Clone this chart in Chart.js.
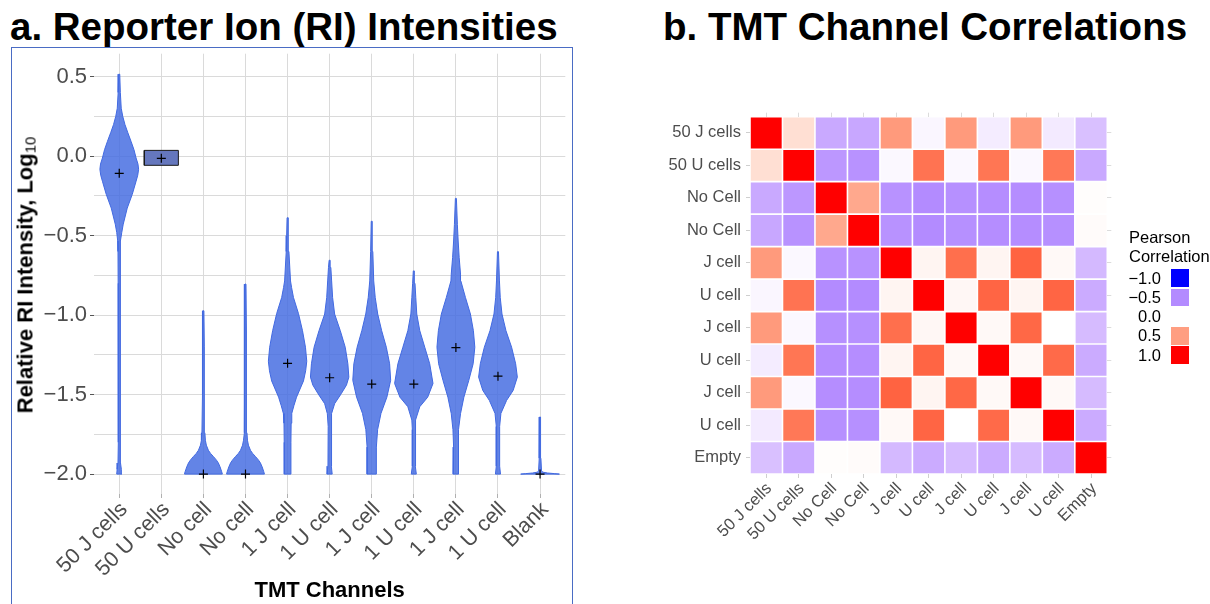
<!DOCTYPE html>
<html><head><meta charset="utf-8">
<script src="https://cdn.jsdelivr.net/npm/chart.js@4.4.1/dist/chart.umd.min.js"></script>
<style>
html,body{margin:0;padding:0;background:#fff;width:1210px;height:604px;overflow:hidden;font-family:"Liberation Sans",Arial,sans-serif;}
.title{position:absolute;font-weight:bold;font-size:38.5px;line-height:38.5px;color:#000;white-space:nowrap;top:8px;}
#panelA{position:absolute;left:11px;top:47px;width:560px;height:600px;border:1px solid #4a6cc4;}
#cA{position:absolute;left:12px;top:48px;}
#cB{position:absolute;left:620px;top:60px;}
#ytitle{position:absolute;left:26px;top:275px;transform:translate(-50%,-50%) rotate(-90deg);font-weight:bold;font-size:22px;line-height:1;white-space:nowrap;color:#000;}
#ytitle sub{font-size:15px;font-weight:normal;vertical-align:-3px;}
.lt{position:absolute;left:1129px;font-size:16.5px;line-height:18.6px;color:#000;white-space:nowrap;}
.ll{position:absolute;left:1100px;width:61px;text-align:right;font-size:16.5px;line-height:19px;color:#000;}
.ls{position:absolute;left:1171px;width:18px;height:17.5px;}
</style></head>
<body>
<div class="title" style="left:10px;">a. Reporter Ion (RI) Intensities</div>
<div class="title" style="left:663px;">b. TMT Channel Correlations</div>
<div id="panelA"></div>
<canvas id="cA" width="559" height="556"></canvas>
<div id="ytitle">Relative RI Intensity, Log<sub>10</sub></div>
<canvas id="cB" width="590" height="544"></canvas>
<div id="legend"></div>
<script>
// ---------------- Panel a data ----------------
const categories = ["50 J cells","50 U cells","No cell","No cell","1 J cell","1 U cell","1 J cell","1 U cell","1 J cell","1 U cell","Blank"];
const meanValues = [-0.108, -0.014, -2.0, -2.0, -1.303, -1.394, -1.434, -1.434, -1.204, -1.384, -2.0];
const yMajorTicks = [-2.0, -1.5, -1.0, -0.5, 0.0, 0.5];
const yMinorTicks = [-1.75, -1.25, -0.75, -0.25, 0.25];
const yLimits = [-2.125, 0.644];
// violin profiles: [value (log10), relative half-width of density]
const violin50J = [[-2.0,0.06],[-1.97,0.05],[-1.93,0.03],[-1.8,0.022],[-1.2,0.022],[-0.8,0.026],[-0.6,0.03],[-0.534,0.036],[-0.48,0.06],[-0.428,0.095],[-0.327,0.19],[-0.24,0.31],[-0.158,0.40],[-0.12,0.44],[-0.083,0.46],[-0.05,0.445],[-0.012,0.40],[0.04,0.35],[0.093,0.28],[0.15,0.2],[0.199,0.135],[0.25,0.083],[0.301,0.047],[0.4,0.026],[0.515,0.012]];
const violin50U = [[-0.058,0.405],[0.036,0.405]];
const violinNoCellA = [[-2.0,0.45],[-1.985,0.435],[-1.954,0.395],[-1.93,0.355],[-1.912,0.31],[-1.89,0.24],[-1.87,0.17],[-1.85,0.118],[-1.818,0.07],[-1.787,0.047],[-1.74,0.035],[-1.5,0.024],[-1.2,0.02],[-0.973,0.012]];
const violinNoCellB = [[-2.0,0.45],[-1.985,0.435],[-1.954,0.395],[-1.93,0.355],[-1.912,0.31],[-1.89,0.24],[-1.87,0.17],[-1.85,0.118],[-1.818,0.07],[-1.787,0.047],[-1.74,0.035],[-1.5,0.024],[-1.1,0.02],[-0.805,0.012]];
const violin1JA = [[-2.0,0.078],[-1.8,0.08],[-1.68,0.085],[-1.618,0.10],[-1.57,0.15],[-1.516,0.213],[-1.414,0.378],[-1.35,0.43],[-1.29,0.456],[-1.202,0.425],[-1.098,0.355],[-0.991,0.26],[-0.889,0.14],[-0.826,0.095],[-0.785,0.07],[-0.6,0.032],[-0.5,0.022],[-0.388,0.012]];
const violin1UA = [[-2.0,0.06],[-1.95,0.04],[-1.7,0.035],[-1.62,0.055],[-1.557,0.118],[-1.494,0.276],[-1.44,0.40],[-1.39,0.456],[-1.306,0.433],[-1.202,0.37],[-1.098,0.253],[-0.993,0.118],[-0.889,0.07],[-0.785,0.047],[-0.7,0.028],[-0.655,0.012]];
const violin1JB = [[-2.0,0.11],[-1.83,0.11],[-1.72,0.14],[-1.618,0.22],[-1.516,0.36],[-1.41,0.45],[-1.306,0.425],[-1.202,0.347],[-1.098,0.236],[-0.993,0.142],[-0.889,0.083],[-0.785,0.047],[-0.6,0.026],[-0.41,0.012]];
const violin1UB = [[-2.0,0.06],[-1.95,0.035],[-1.72,0.035],[-1.66,0.047],[-1.576,0.142],[-1.516,0.33],[-1.43,0.456],[-1.306,0.378],[-1.202,0.26],[-1.098,0.142],[-0.993,0.07],[-0.889,0.047],[-0.8,0.028],[-0.722,0.012]];
const violin1JC = [[-2.0,0.064],[-1.83,0.054],[-1.72,0.07],[-1.62,0.11],[-1.516,0.19],[-1.41,0.307],[-1.306,0.41],[-1.202,0.45],[-1.098,0.416],[-0.993,0.345],[-0.889,0.227],[-0.785,0.118],[-0.742,0.11],[-0.638,0.078],[-0.534,0.054],[-0.43,0.035],[-0.266,0.012]];
const violin1UC = [[-2.0,0.06],[-1.95,0.04],[-1.7,0.04],[-1.618,0.07],[-1.536,0.206],[-1.474,0.36],[-1.39,0.46],[-1.306,0.42],[-1.202,0.324],[-1.098,0.19],[-0.993,0.095],[-0.889,0.054],[-0.785,0.035],[-0.601,0.012]];
const violinBlank = [[-2.0,0.46],[-1.997,0.35],[-1.993,0.18],[-1.988,0.07],[-1.98,0.035],[-1.9,0.02],[-1.641,0.012]];
const violins = [violin50J, violin50U, violinNoCellA, violinNoCellB, violin1JA, violin1UA, violin1JB, violin1UB, violin1JC, violin1UC, violinBlank];

// ---------------- Panel b data ----------------
const rowLabels = ["50 J cells","50 U cells","No Cell","No Cell","J cell","U cell","J cell","U cell","J cell","U cell","Empty"];
const colLabels = ["50 J cells","50 U cells","No Cell","No Cell","J cell","U cell","J cell","U cell","J cell","U cell","Empty"];
const corr50J   = [1.00, 0.17,-0.37,-0.38, 0.52,-0.04, 0.52,-0.08, 0.52,-0.09,-0.27];
const corr50U   = [0.17, 1.00,-0.45,-0.47,-0.03, 0.70,-0.03, 0.69,-0.03, 0.68,-0.37];
const corrNoA   = [-0.37,-0.45, 1.00, 0.45,-0.47,-0.50,-0.48,-0.49,-0.49,-0.48, 0.01];
const corrNoB   = [-0.38,-0.47, 0.45, 1.00,-0.47,-0.50,-0.48,-0.49,-0.49,-0.48, 0.02];
const corrJ1    = [0.52,-0.03,-0.47,-0.47, 1.00, 0.05, 0.72, 0.05, 0.77, 0.03,-0.30];
const corrU1    = [-0.04, 0.70,-0.50,-0.50, 0.05, 1.00, 0.04, 0.76, 0.05, 0.76,-0.36];
const corrJ2    = [0.52,-0.03,-0.48,-0.48, 0.72, 0.04, 1.00, 0.03, 0.75, 0.00,-0.29];
const corrU2    = [-0.08, 0.69,-0.49,-0.49, 0.05, 0.76, 0.03, 1.00, 0.03, 0.74,-0.36];
const corrJ3    = [0.52,-0.03,-0.49,-0.49, 0.77, 0.05, 0.75, 0.03, 1.00, 0.03,-0.29];
const corrU3    = [-0.09, 0.68,-0.48,-0.48, 0.03, 0.76, 0.00, 0.74, 0.03, 1.00,-0.36];
const corrEmpty = [-0.27,-0.37, 0.01, 0.02,-0.30,-0.36,-0.29,-0.36,-0.29,-0.36, 1.00];
const corrRows = [corr50J, corr50U, corrNoA, corrNoB, corrJ1, corrU1, corrJ2, corrU2, corrJ3, corrU3, corrEmpty];
const legendValues = [-1.0, -0.5, 0.0, 0.5, 1.0];

// ---------------- helpers ----------------
const FAMILY = "'Liberation Sans', Arial, sans-serif";
Chart.defaults.font.family = FAMILY;
const fmt = v => (v < -1e-9 ? "\u2212" : "") + Math.abs(v).toFixed(1);

function s2l(c){c/=255;return c<=0.04045?c/12.92:Math.pow((c+0.055)/1.055,2.4);}
function l2s(c){const v=c<=0.0031308?12.92*c:1.055*Math.pow(c,1/2.4)-0.055;return Math.round(Math.max(0,Math.min(1,v))*255);}
function rgbToLab(rgb){
  const R=s2l(rgb[0]),G=s2l(rgb[1]),B=s2l(rgb[2]);
  const X=(0.4124564*R+0.3575761*G+0.1804375*B)/0.95047;
  const Y=(0.2126729*R+0.7151522*G+0.0721750*B);
  const Z=(0.0193339*R+0.1191920*G+0.9503041*B)/1.08883;
  const f=t=>t>216/24389?Math.cbrt(t):(24389/27*t+16)/116;
  const fx=f(X),fy=f(Y),fz=f(Z);
  return [116*fy-16,500*(fx-fy),200*(fy-fz)];
}
function labToRgb(lab){
  const fy=(lab[0]+16)/116, fx=fy+lab[1]/500, fz=fy-lab[2]/200;
  const finv=t=>t*t*t>216/24389?t*t*t:(116*t-16)/(24389/27);
  const X=finv(fx)*0.95047, Y=finv(fy), Z=finv(fz)*1.08883;
  return [l2s(3.2404542*X-1.5371385*Y-0.4985314*Z), l2s(-0.9692660*X+1.8760108*Y+0.0415560*Z), l2s(0.0556434*X-0.2040259*Y+1.0572252*Z)];
}
const LAB_LOW = rgbToLab([0,0,255]), LAB_MID = rgbToLab([255,255,255]), LAB_HIGH = rgbToLab([255,0,0]);
function corrColor(v){
  const t=Math.min(1,Math.abs(v)); const end = v<0?LAB_LOW:LAB_HIGH;
  const lab=[0,1,2].map(i=>LAB_MID[i]+(end[i]-LAB_MID[i])*t);
  const c=labToRgb(lab); return `rgb(${c[0]},${c[1]},${c[2]})`;
}

function violinPolygon(profile, center){
  const right = profile.map(p => ({x:center+p[1], y:p[0]}));
  const left = profile.slice().reverse().map(p => ({x:center-p[1], y:p[0]}));
  const pts = right.concat(left); pts.push(right[0]); return pts;
}
const noPad = s => { s.paddingTop = 0; s.paddingBottom = 0; s.paddingLeft = 0; s.paddingRight = 0; };

// ---------------- Panel a chart ----------------
const violinDatasets = violins.map((prof, i) => ({
  type:'line', data: violinPolygon(prof, i), order: 1,
  fill: 'shape', tension: 0, pointRadius: 0, borderWidth: 1,
  backgroundColor: i===1 ? '#6577bd' : 'rgba(65,105,225,0.82)',
  borderColor: i===1 ? '#1a1a1a' : '#4169e1'
}));
const meanDataset = {
  type:'line', data: meanValues.map((v,i)=>({x:i,y:v})), order: 0, showLine:false,
  pointStyle:'cross', pointRadius:4.5, borderColor:'#000', backgroundColor:'#000', pointBorderWidth:1.2
};
const allYTicks = yMajorTicks.concat(yMinorTicks).sort((a,b)=>a-b);
const isMajor = v => yMajorTicks.some(t=>Math.abs(t-v)<1e-6);

new Chart(document.getElementById('cA'), {
  type:'line',
  data:{datasets:[meanDataset, ...violinDatasets]},
  options:{
    responsive:false, animation:false, events:[],
    layout:{padding:{top:4,right:5,left:0,bottom:0}},
    plugins:{legend:{display:false}, tooltip:{enabled:false}},
    scales:{
      x:{type:'linear', min:-0.6, max:10.6,
        afterBuildTicks:s=>{s.ticks=categories.map((_,i)=>({value:i}));},
        afterFit:s=>{s.height=110; noPad(s);},
        ticks:{autoSkip:false, maxRotation:45, minRotation:45, color:'#4d4d4d', font:{size:21.5}, padding:-1, labelOffset:5,
          callback:v=>categories[v]},
        grid:{color:'#dadada', lineWidth:1, tickLength:4, tickColor:'#b0b0b0'},
        border:{display:false},
        title:{display:true, text:'TMT Channels', color:'#000', font:{size:22,weight:'bold'}, padding:{top:0,bottom:0}}
      },
      y:{type:'linear', min:yLimits[0], max:yLimits[1],
        afterBuildTicks:s=>{s.ticks=allYTicks.map(v=>({value:v}));},
        afterFit:s=>{s.width=82; noPad(s);},
        ticks:{autoSkip:false, color:'#4d4d4d', font:{size:22}, padding:3,
          callback:v=>isMajor(v)?fmt(v):''},
        grid:{color:'#dadada', lineWidth:1, tickLength:4,
          tickColor:ctx=>isMajor(ctx.tick.value)?'#555':'rgba(0,0,0,0)'},
        border:{display:false}
      }
    }
  }
});

// ---------------- Panel b chart ----------------
const nRows = rowLabels.length;
const heatDatasets = rowLabels.map((_, k) => {
  const r = nRows-1-k; // bottom-up stacking
  return {
    label: rowLabels[r],
    data: colLabels.map(()=>1),
    backgroundColor: corrRows[r].map(corrColor),
    borderColor:'#ffffff', borderWidth:0.8, borderSkipped:false, inflateAmount:0,
    barPercentage:1, categoryPercentage:1, stack:'heat'
  };
});
const centerTicks = s => { s.ticks = rowLabels.map((_,i)=>({value:i+0.5})); };
new Chart(document.getElementById('cB'), {
  type:'bar',
  data:{labels:colLabels, datasets:heatDatasets},
  options:{
    responsive:false, animation:false, events:[],
    layout:{padding:{top:52.7,right:98.7,left:0,bottom:0}},
    plugins:{legend:{display:false}, tooltip:{enabled:false}},
    scales:{
      x:{type:'category', stacked:true, offset:true,
        afterFit:s=>{s.height=130; noPad(s);},
        ticks:{autoSkip:false, maxRotation:45, minRotation:45, color:'#4d4d4d', font:{size:16.5}, padding:1, labelOffset:3},
        grid:{offset:false, drawOnChartArea:false, tickLength:4, color:'#cfcfcf'},
        border:{display:false}
      },
      x2:{type:'category', position:'top', offset:true,
        afterFit:s=>{s.height=4; noPad(s);},
        ticks:{display:false},
        grid:{offset:false, drawOnChartArea:false, tickLength:4, color:'#dcdcdc'},
        border:{display:false}
      },
      y:{type:'linear', stacked:true, min:0, max:nRows,
        afterBuildTicks:centerTicks,
        afterFit:s=>{s.width=130; noPad(s);},
        ticks:{autoSkip:false, color:'#4d4d4d', font:{size:16.5}, padding:5,
          callback:v=>rowLabels[nRows-1-Math.floor(v)]},
        grid:{drawOnChartArea:false, tickLength:4, color:'#cfcfcf'},
        border:{display:false}
      },
      y2:{type:'linear', position:'right', min:0, max:nRows,
        afterBuildTicks:centerTicks,
        afterFit:s=>{s.width=4; noPad(s);},
        ticks:{display:false},
        grid:{drawOnChartArea:false, tickLength:4, color:'#dcdcdc'},
        border:{display:false}
      }
    }
  }
});

// ---------------- legend (HTML text) ----------------
const lg = document.getElementById('legend');
lg.innerHTML = '<div class="lt" style="top:228px;">Pearson<br>Correlation</div>';
const legendTop = 278, legendStep = 19.25;
legendValues.forEach((v,i)=>{
  const yc = legendTop + i*legendStep;
  const l = document.createElement('div'); l.className='ll'; l.style.top=(yc-9.5)+'px'; l.textContent=fmt(v); lg.appendChild(l);
  const s = document.createElement('div'); s.className='ls'; s.style.top=(yc-8.75)+'px'; s.style.background=corrColor(v); lg.appendChild(s);
});
</script>
</body></html>
